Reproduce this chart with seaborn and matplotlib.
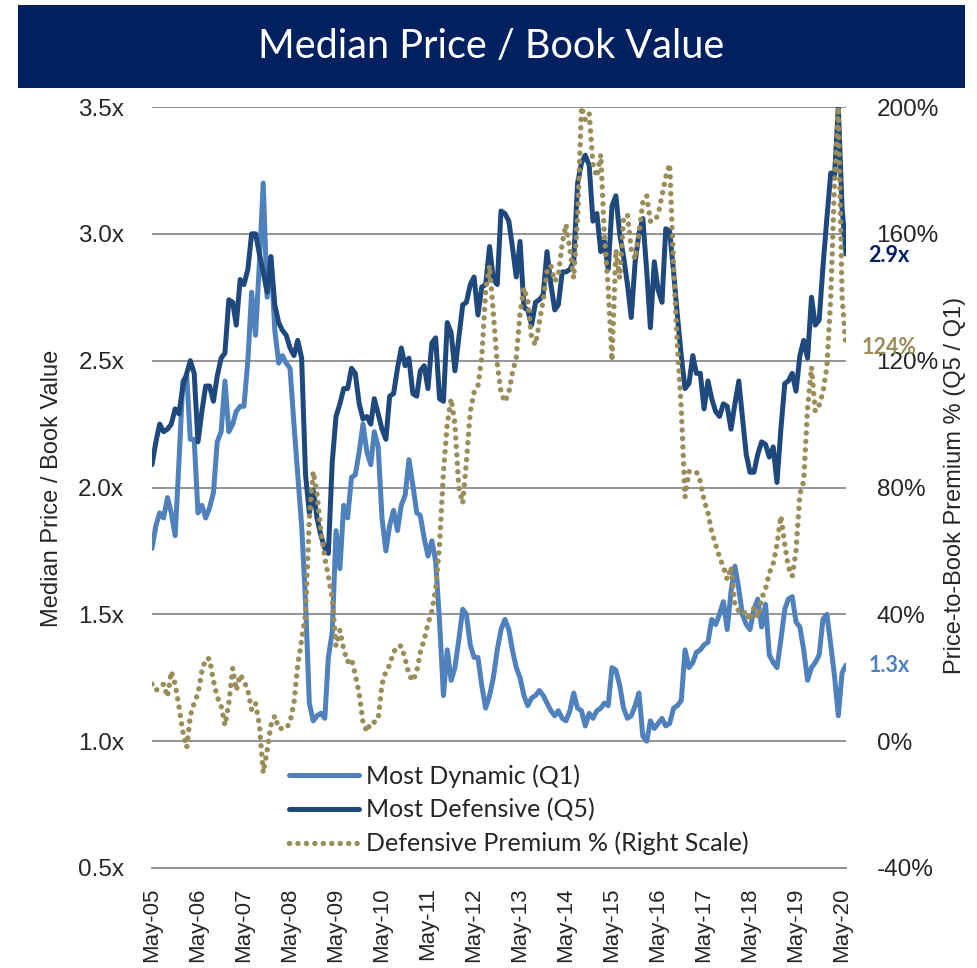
import pandas as pd
import numpy as np
import matplotlib
matplotlib.use("Agg")
import matplotlib.pyplot as plt
import matplotlib.dates as mdates
from matplotlib.patches import Rectangle
import seaborn as sns

# monthly series, May-05 .. Jun-20
start_month = "2005-05-01"
q1_dynamic = [
    1.76, 1.85, 1.90, 1.88, 1.96, 1.90, 1.81, 2.10, 2.42, 2.44,
    2.19, 2.19, 1.90, 1.93, 1.88, 1.92, 1.98, 2.18, 2.22, 2.42,
    2.22, 2.25, 2.30, 2.32, 2.32, 2.50, 2.77, 2.60, 2.89, 3.20,
    2.75, 2.91, 2.62, 2.49, 2.52, 2.49, 2.47, 2.25, 2.05, 1.85,
    1.55, 1.15, 1.08, 1.10, 1.11, 1.09, 1.33, 1.43, 1.83, 1.68,
    1.93, 1.88, 2.04, 2.05, 2.14, 2.25, 2.14, 2.09, 2.22, 2.16,
    1.88, 1.75, 1.85, 1.91, 1.83, 1.93, 1.97, 2.11, 2.01, 1.90,
    1.89, 1.80, 1.73, 1.79, 1.71, 1.47, 1.18, 1.36, 1.24, 1.29,
    1.40, 1.52, 1.50, 1.38, 1.33, 1.33, 1.22, 1.13, 1.18, 1.25,
    1.36, 1.44, 1.48, 1.44, 1.36, 1.29, 1.25, 1.18, 1.14, 1.17,
    1.18, 1.20, 1.18, 1.15, 1.12, 1.10, 1.12, 1.09, 1.08, 1.12,
    1.19, 1.13, 1.12, 1.06, 1.11, 1.09, 1.12, 1.13, 1.15, 1.14,
    1.29, 1.28, 1.22, 1.13, 1.09, 1.10, 1.14, 1.19, 1.02, 1.00,
    1.08, 1.05, 1.07, 1.09, 1.06, 1.07, 1.13, 1.14, 1.16, 1.36,
    1.29, 1.31, 1.35, 1.36, 1.38, 1.39, 1.48, 1.46, 1.50, 1.55,
    1.44, 1.59, 1.69, 1.60, 1.50, 1.46, 1.44, 1.52, 1.56, 1.45,
    1.54, 1.34, 1.31, 1.29, 1.40, 1.52, 1.56, 1.57, 1.47, 1.45,
    1.36, 1.24, 1.29, 1.31, 1.34, 1.48, 1.50, 1.38, 1.26, 1.10,
    1.27, 1.30,
]
q5_defensive = [
    2.09, 2.18, 2.25, 2.22, 2.23, 2.25, 2.31, 2.29, 2.40, 2.45,
    2.50, 2.45, 2.18, 2.30, 2.40, 2.40, 2.34, 2.44, 2.51, 2.53,
    2.74, 2.73, 2.64, 2.82, 2.80, 2.86, 3.00, 3.00, 2.92, 2.85,
    2.77, 2.91, 2.72, 2.65, 2.62, 2.60, 2.55, 2.52, 2.58, 2.51,
    2.05, 1.90, 1.99, 1.88, 1.81, 1.76, 1.74, 2.10, 2.28, 2.33,
    2.39, 2.39, 2.47, 2.45, 2.33, 2.27, 2.28, 2.25, 2.35, 2.29,
    2.23, 2.19, 2.36, 2.37, 2.47, 2.55, 2.48, 2.51, 2.37, 2.36,
    2.46, 2.48, 2.39, 2.57, 2.59, 2.35, 2.34, 2.65, 2.61, 2.46,
    2.59, 2.72, 2.73, 2.80, 2.83, 2.68, 2.79, 2.80, 2.95, 2.82,
    2.80, 3.09, 3.08, 3.05, 2.95, 2.83, 2.97, 2.71, 2.70, 2.64,
    2.73, 2.74, 2.76, 2.93, 2.80, 2.70, 2.72, 2.85, 2.85, 2.86,
    2.89, 3.20, 3.28, 3.31, 3.27, 3.05, 3.08, 2.93, 2.97, 2.86,
    3.11, 3.15, 3.00, 2.91, 2.80, 2.67, 2.89, 3.00, 3.06, 2.85,
    2.63, 2.89, 2.78, 2.73, 3.02, 3.01, 2.85, 2.68, 2.52, 2.39,
    2.41, 2.52, 2.45, 2.45, 2.31, 2.42, 2.35, 2.30, 2.28, 2.33,
    2.32, 2.23, 2.33, 2.42, 2.28, 2.13, 2.06, 2.06, 2.13, 2.18,
    2.17, 2.12, 2.16, 2.02, 2.23, 2.41, 2.42, 2.45, 2.38, 2.52,
    2.58, 2.51, 2.75, 2.64, 2.66, 2.87, 3.06, 3.24, 3.22, 3.50,
    3.10, 2.92,
]
premium_pct = [
    18, 16, 17, 18, 14, 22, 18, 11, 3, -2,
    8, 12, 15, 22, 26, 26, 19, 14, 11, 5,
    12, 23, 16, 21, 19, 16, 10, 12, 5, -10,
    -3, 5, 8, 4, 4, 4, 6, 12, 24, 32,
    40, 70, 85, 78, 66, 58, 52, 45, 30, 35,
    29, 25, 26, 21, 15, 6, 3, 6, 6, 7,
    18, 22, 24, 28, 30, 30, 26, 21, 19, 22,
    28, 32, 37, 41, 48, 62, 85, 100, 108, 100,
    80, 75, 88, 104, 110, 112, 121, 142, 150, 135,
    119, 110, 107, 110, 116, 121, 135, 143, 139, 127,
    125, 132, 139, 148, 150, 145, 147, 157, 163, 155,
    146, 165, 200, 196, 198, 182, 178, 185, 160, 143,
    120, 155, 146, 165, 166, 155, 152, 160, 170, 172,
    164, 164, 166, 172, 178, 182, 150, 125, 105, 77,
    85, 85, 85, 82, 76, 72, 66, 62, 58, 55,
    51, 55, 43, 41, 40, 41, 38, 42, 39, 45,
    48, 53, 56, 62, 71, 62, 55, 52, 60, 78,
    82, 105, 118, 104, 106, 110, 118, 140, 175, 200,
    140, 124,
]
left_ticks = [0.5, 1.0, 1.5, 2.0, 2.5, 3.0, 3.5]
left_labels = ["0.5x", "1.0x", "1.5x", "2.0x", "2.5x", "3.0x", "3.5x"]
right_ticks = [-40, 0, 40, 80, 120, 160, 200]
right_labels = ["-40%", "0%", "40%", "80%", "120%", "160%", "200%"]
series_names = ["Most Dynamic (Q1)", "Most Defensive (Q5)", "Defensive Premium % (Right Scale)"]

light_blue = "#4F81BD"
dark_blue = "#1F497D"
khaki = "#9A8D59"
navy = "#002060"
grid_gray = "#8C8C8C"

sns.set_style("white")
plt.rcParams['font.family'] = ['Lato', 'DejaVu Sans']

dates = pd.date_range(start_month, periods=len(q5_defensive), freq="MS")
df = pd.DataFrame({"date": dates, "q1": q1_dynamic, "q5": q5_defensive, "prem": premium_pct})

fig = plt.figure(figsize=(9.78, 9.68), dpi=100)
fig.patches.append(Rectangle((18 / 978, 1 - 88 / 968), 947 / 978, 83 / 968,
                             transform=fig.transFigure, facecolor=navy, edgecolor="none"))
fig.text(491 / 978, 1 - 47 / 968, "Median Price / Book Value", color="white",
         fontsize=28.5, ha="center", va="center")

ax = fig.add_axes([152 / 978, 1 - 868 / 968, 694 / 978, 761 / 968])
ax2 = ax.twinx()

sns.lineplot(data=df, x="date", y="q1", ax=ax, color=light_blue, linewidth=3.6,
             solid_joinstyle="round", solid_capstyle="round")
sns.lineplot(data=df, x="date", y="q5", ax=ax, color=dark_blue, linewidth=3.6,
             solid_joinstyle="round", solid_capstyle="round")
sns.lineplot(data=df, x="date", y="prem", ax=ax2, color=khaki, linewidth=3.9,
             linestyle=(0, (0.01, 1.55)), dash_capstyle="round")
h_q1, h_q5 = ax.lines[0], ax.lines[1]
h_prem = ax2.lines[0]

ax.set_xlim(dates[0], dates[-1])
ax.set_ylim(0.5, 3.5)
ax2.set_ylim(-40, 200)

ax.set_yticks(left_ticks)
ax.set_yticklabels(left_labels, fontfamily="Liberation Sans", fontsize=17.5)
ax2.set_yticks(right_ticks)
ax2.set_yticklabels(right_labels, fontfamily="Liberation Sans", fontsize=17.5)
ax.tick_params(axis="y", length=0, pad=20)
ax2.tick_params(axis="y", length=0, pad=22)

ax.xaxis.set_major_locator(mdates.MonthLocator(bymonth=5))
ax.xaxis.set_major_formatter(mdates.DateFormatter("%b-%y"))
ax.tick_params(axis="x", direction="out", length=6, width=1.3, color=grid_gray,
               pad=8, labelsize=16)
for lbl in ax.get_xticklabels():
    lbl.set_rotation(90)
    lbl.set_fontfamily("Liberation Sans")

ax.yaxis.grid(True, color=grid_gray, linewidth=1.3)
ax.xaxis.grid(False)
ax.set_axisbelow(True)
for side in ["top", "left", "right"]:
    ax.spines[side].set_visible(False)
    ax2.spines[side].set_visible(False)
ax2.spines["bottom"].set_visible(False)
ax.spines["bottom"].set_color(grid_gray)
ax.spines["bottom"].set_linewidth(1.3)

ax.set_xlabel("")
ax.set_ylabel("")
ax2.set_ylabel("")
fig.text(52 / 978, 1 - 488 / 968, "Median Price / Book Value", rotation=90,
         ha="center", va="center", fontsize=17, fontfamily="Liberation Sans")
fig.text(955 / 978, 1 - 485 / 968, "Price-to-Book Premium % (Q5 / Q1)", rotation=90,
         ha="center", va="center", fontsize=17, fontfamily="Liberation Sans")

# end-of-series value labels
ax.annotate(f"{q5_defensive[-1]:.1f}x", xy=(dates[-1], q5_defensive[-1]), xytext=(16, -1),
            textcoords="offset points", color=navy, fontweight="bold", fontsize=15.5,
            ha="left", va="center", annotation_clip=False)
ax.annotate(f"{q1_dynamic[-1]:.1f}x", xy=(dates[-1], q1_dynamic[-1]), xytext=(16, 0),
            textcoords="offset points", color=light_blue, fontweight="bold", fontsize=15.5,
            ha="left", va="center", annotation_clip=False)
ax2.annotate(f"{premium_pct[-1]}%", xy=(dates[-1], premium_pct[-1]), xytext=(11, 0),
             textcoords="offset points", color=khaki, fontweight="bold", fontsize=15.5,
             ha="left", va="center", annotation_clip=False, zorder=10)

leg = ax2.legend([h_q1, h_q5, h_prem], series_names, loc="upper left",
                 bbox_to_anchor=(289 / 978, 1 - 764 / 968), bbox_transform=fig.transFigure,
                 frameon=False, fontsize=18, handlelength=2.8, handletextpad=0.3,
                 labelspacing=0.42, borderpad=0, borderaxespad=0)

fig.savefig("out.png", dpi=100)
